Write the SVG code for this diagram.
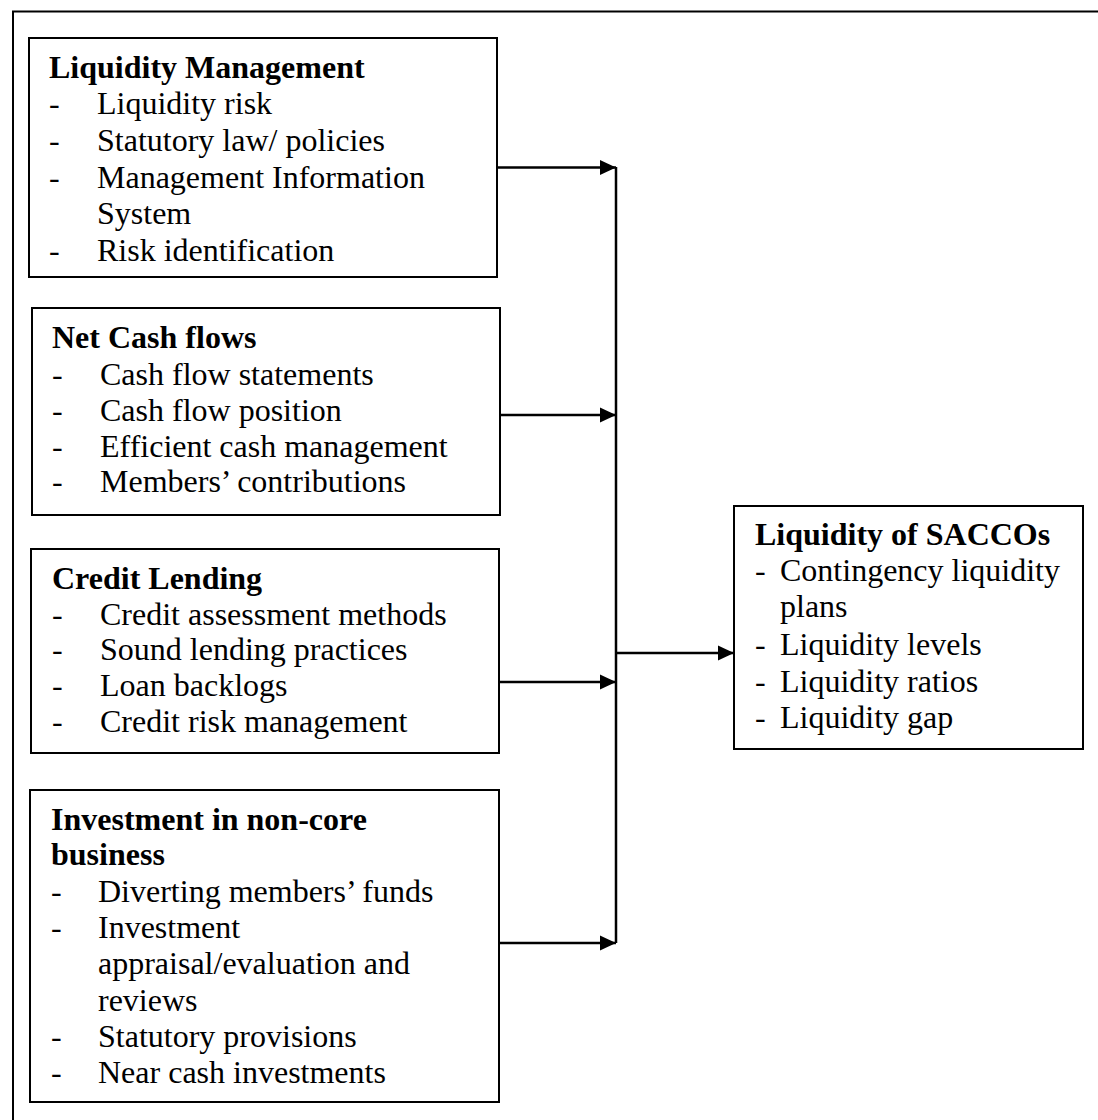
<svg xmlns="http://www.w3.org/2000/svg" width="1098" height="1120" viewBox="0 0 1098 1120">
<style>
.box{fill:#fff;stroke:#000;stroke-width:2}
.t{font-family:"Liberation Serif","Times New Roman",serif;font-size:32px;fill:#000}
.b{font-weight:bold}
.c{stroke:#000;stroke-width:2.5;fill:none}
</style>
<defs>
<marker id="ah" markerWidth="17" markerHeight="16" refX="16" refY="8" orient="auto" markerUnits="userSpaceOnUse">
<path d="M0,0.5 L16,8 L0,15.5 z" fill="#000"/>
</marker>
</defs>
<rect width="1098" height="1120" fill="#fff"/>
<rect id="frame" x="13" y="11.5" width="1100" height="1130" fill="none" stroke="#000" stroke-width="2"/>

<g id="connectors">
<line class="c" x1="616" y1="167" x2="616" y2="943"/>
<line class="c" x1="497" y1="167.5" x2="616" y2="167.5" marker-end="url(#ah)"/>
<line class="c" x1="500" y1="415" x2="616" y2="415" marker-end="url(#ah)"/>
<line class="c" x1="499" y1="682" x2="616" y2="682" marker-end="url(#ah)"/>
<line class="c" x1="499" y1="943" x2="616" y2="943" marker-end="url(#ah)"/>
<line class="c" x1="616" y1="653" x2="734" y2="653" marker-end="url(#ah)"/>
</g>

<g id="liquidity-management">
<rect class="box" x="29" y="38" width="468" height="239"/>
<text class="t b" x="49" y="78">Liquidity Management</text>
<text class="t" x="49" y="114">-</text><text class="t" x="97" y="114">Liquidity risk</text>
<text class="t" x="49" y="151">-</text><text class="t" x="97" y="151">Statutory law/ policies</text>
<text class="t" x="49" y="188">-</text><text class="t" x="97" y="188">Management Information</text>
<text class="t" x="97" y="224">System</text>
<text class="t" x="49" y="261">-</text><text class="t" x="97" y="261">Risk identification</text>
</g>

<g id="net-cash-flows">
<rect class="box" x="32" y="308" width="468" height="207"/>
<text class="t b" x="52" y="348">Net Cash flows</text>
<text class="t" x="52" y="385">-</text><text class="t" x="100" y="385">Cash flow statements</text>
<text class="t" x="52" y="421">-</text><text class="t" x="100" y="421">Cash flow position</text>
<text class="t" x="52" y="457">-</text><text class="t" x="100" y="457">Efficient cash management</text>
<text class="t" x="52" y="492">-</text><text class="t" x="100" y="492">Members’ contributions</text>
</g>

<g id="credit-lending">
<rect class="box" x="31" y="549" width="468" height="204"/>
<text class="t b" x="52" y="589">Credit Lending</text>
<text class="t" x="52" y="625">-</text><text class="t" x="100" y="625">Credit assessment methods</text>
<text class="t" x="52" y="660">-</text><text class="t" x="100" y="660">Sound lending practices</text>
<text class="t" x="52" y="696">-</text><text class="t" x="100" y="696">Loan backlogs</text>
<text class="t" x="52" y="732">-</text><text class="t" x="100" y="732">Credit risk management</text>
</g>

<g id="investment-non-core">
<rect class="box" x="30" y="790" width="469" height="312"/>
<text class="t b" x="51" y="830">Investment in non-core</text>
<text class="t b" x="51" y="865">business</text>
<text class="t" x="51" y="902">-</text><text class="t" x="98" y="902">Diverting members’ funds</text>
<text class="t" x="51" y="938">-</text><text class="t" x="98" y="938">Investment</text>
<text class="t" x="98" y="974">appraisal/evaluation and</text>
<text class="t" x="98" y="1011">reviews</text>
<text class="t" x="51" y="1047">-</text><text class="t" x="98" y="1047">Statutory provisions</text>
<text class="t" x="51" y="1083">-</text><text class="t" x="98" y="1083">Near cash investments</text>
</g>

<g id="liquidity-saccos">
<rect class="box" x="734" y="506" width="349" height="243"/>
<text class="t b" x="755" y="545">Liquidity of SACCOs</text>
<text class="t" x="755" y="581">-</text><text class="t" x="780" y="581">Contingency liquidity</text>
<text class="t" x="780" y="617">plans</text>
<text class="t" x="755" y="655">-</text><text class="t" x="780" y="655">Liquidity levels</text>
<text class="t" x="755" y="692">-</text><text class="t" x="780" y="692">Liquidity ratios</text>
<text class="t" x="755" y="728">-</text><text class="t" x="780" y="728">Liquidity gap</text>
</g>
</svg>
